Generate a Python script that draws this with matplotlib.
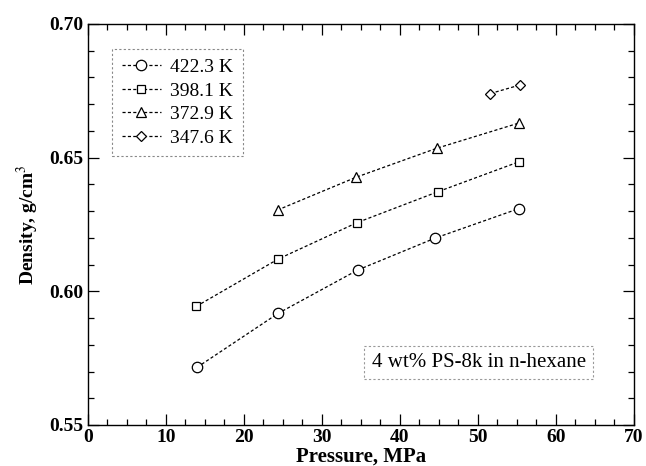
import matplotlib
matplotlib.use("Agg")
import matplotlib.pyplot as plt
from matplotlib.ticker import MultipleLocator

plt.rcParams['font.family'] = ['Liberation Serif', 'DejaVu Serif']
plt.rcParams['mathtext.fontset'] = 'stix'

# data (pressure in MPa, density in g/cm3)
p_4223 = [14.0, 24.4, 34.6, 44.5, 55.2]
rho_4223 = [0.5716, 0.5918, 0.6080, 0.6199, 0.6309]
p_3981 = [13.9, 24.4, 34.5, 44.9, 55.3]
rho_3981 = [0.5944, 0.6121, 0.6257, 0.6373, 0.6485]
p_3729 = [24.3, 34.4, 44.7, 55.3]
rho_3729 = [0.6304, 0.6427, 0.6535, 0.6630]
p_3476 = [51.6, 55.4]
rho_3476 = [0.6740, 0.6772]

series = [
    (p_4223, rho_4223, "o", 7.5, "422.3 K"),
    (p_3981, rho_3981, "s", 5.5, "398.1 K"),
    (p_3729, rho_3729, "^", 6.5, "372.9 K"),
    (p_3476, rho_3476, "D", 5.5, "347.6 K"),
]

fig = plt.figure(figsize=(6.46, 4.66), dpi=100)
ax = fig.add_axes([0.1362, 0.088, 0.8452, 0.8605])

for p, rho, mk, ms, lab in series:
    ax.plot(p, rho, linestyle=(0, (2.5, 1.8)), color="black", linewidth=0.9,
            marker=mk, markersize=ms, markerfacecolor="white",
            markeredgecolor="black", markeredgewidth=0.9, label=lab)

ax.set_xlim(0, 70)
ax.set_ylim(0.55, 0.70)
ax.xaxis.set_major_locator(MultipleLocator(10))
ax.xaxis.set_minor_locator(MultipleLocator(2.5))
ax.yaxis.set_major_locator(MultipleLocator(0.05))
ax.yaxis.set_minor_locator(MultipleLocator(0.01))
ax.yaxis.set_major_formatter(plt.FormatStrFormatter("%.2f"))
ax.tick_params(which="both", direction="in", top=True, right=True, width=0.9)
ax.tick_params(which="major", length=8, labelsize=14, pad=3)
ax.tick_params(which="minor", length=4)
for t in ax.get_xticklabels() + ax.get_yticklabels():
    t.set_fontweight("bold")
for s in ax.spines.values():
    s.set_linewidth(1.0)

ax.set_xlabel("Pressure, MPa", fontsize=15, fontweight="bold", labelpad=0)
ax.set_ylabel("Density, g/cm$^{3}$", fontsize=14, fontweight="bold", labelpad=6)

leg = ax.legend(loc="upper left", bbox_to_anchor=(0.044, 0.938), fontsize=14,
                handlelength=2.0, handletextpad=0.5, labelspacing=0.3,
                borderpad=0.5, borderaxespad=0, fancybox=False, framealpha=1)
leg.get_frame().set_edgecolor("#888888")
leg.get_frame().set_linestyle((0, (2, 2)))
leg.get_frame().set_linewidth(0.8)

ax.text(50.1, 0.5733, "4 wt% PS-8k in n-hexane", fontsize=15, ha="center",
        va="center",
        bbox=dict(boxstyle="square,pad=0.35", facecolor="white",
                  edgecolor="#999999", linestyle=(0, (2, 2)), linewidth=0.8))

fig.savefig("out.png", dpi=100)
